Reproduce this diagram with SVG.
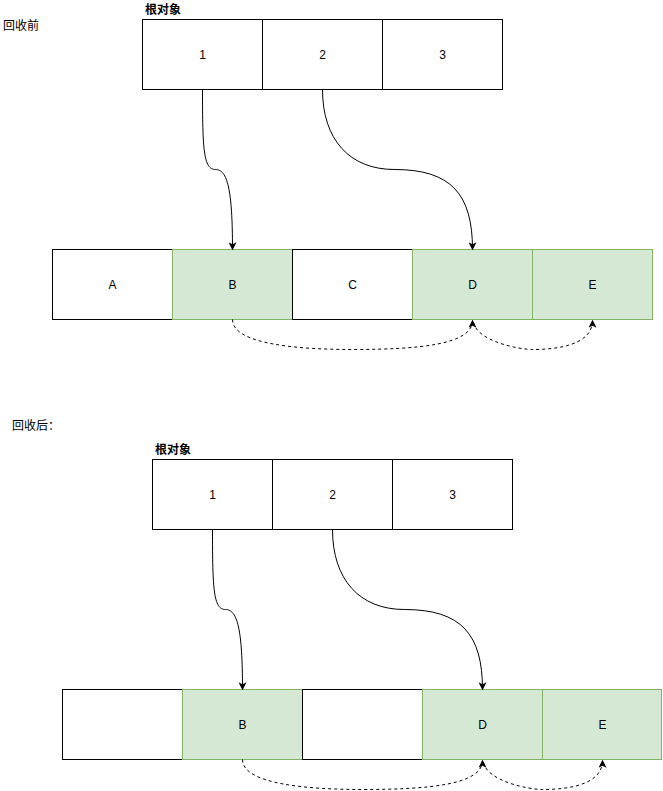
<svg xmlns="http://www.w3.org/2000/svg" width="663" height="791" viewBox="0 0 663 791">
  <style>
    .box { fill: #ffffff; stroke: #000000; stroke-width: 1; }
    .live { fill: #d5e8d4; stroke: #82b366; stroke-width: 1; }
    .lbl { font-family: "Liberation Sans", "Noto Sans CJK SC", sans-serif; font-size: 12px; fill: #000000; text-anchor: middle; dominant-baseline: central; }
    .title { font-family: "Liberation Sans", "Noto Sans CJK SC", sans-serif; font-size: 12px; fill: #000000; }
    .bold { font-weight: bold; }
    .ref { fill: none; stroke: #000000; stroke-width: 1; marker-end: url(#arrow); }
    .dash { fill: none; stroke: #000000; stroke-width: 1; stroke-dasharray: 3 3; marker-end: url(#arrow); }
  </style>
  <defs>
    <marker id="arrow" viewBox="0 0 10 10" refX="9" refY="5" markerWidth="8" markerHeight="8" markerUnits="userSpaceOnUse" orient="auto">
      <path d="M0,0 L10,5 L0,10 L2.5,5 Z" fill="#000000"/>
    </marker>
  </defs>
  <rect width="663" height="791" fill="#ffffff"/>

  <!-- shifted half a pixel so 1px strokes land on pixel rows -->
  <g transform="translate(-0.5,-0.5)">
  <!-- before collection -->
  <text class="title" x="3.5" y="30">回收前</text>
  <text class="title bold" x="145.5" y="14">根对象</text>

  <g id="root1-1"><rect class="box" x="143" y="20" width="120" height="70"/><text class="lbl" x="203" y="55">1</text></g>
  <g id="root1-2"><rect class="box" x="263" y="20" width="120" height="70"/><text class="lbl" x="323" y="55">2</text></g>
  <g id="root1-3"><rect class="box" x="383" y="20" width="120" height="70"/><text class="lbl" x="443" y="55">3</text></g>

  <g id="heap1-A"><rect class="box" x="53" y="250" width="120" height="70"/><text class="lbl" x="113" y="285">A</text></g>
  <g id="heap1-B"><rect class="live" x="173" y="250" width="120" height="70"/><text class="lbl" x="233" y="285">B</text></g>
  <g id="heap1-C"><rect class="box" x="293" y="250" width="120" height="70"/><text class="lbl" x="353" y="285">C</text></g>
  <g id="heap1-D"><rect class="live" x="413" y="250" width="120" height="70"/><text class="lbl" x="473" y="285">D</text></g>
  <g id="heap1-E"><rect class="live" x="533" y="250" width="120" height="70"/><text class="lbl" x="593" y="285">E</text></g>

  <!-- after collection -->
  <text class="title" x="12.5" y="430">回收后：</text>
  <text class="title bold" x="155.5" y="454">根对象</text>

  <g id="root2-1"><rect class="box" x="153" y="460" width="120" height="70"/><text class="lbl" x="213" y="495">1</text></g>
  <g id="root2-2"><rect class="box" x="273" y="460" width="120" height="70"/><text class="lbl" x="333" y="495">2</text></g>
  <g id="root2-3"><rect class="box" x="393" y="460" width="120" height="70"/><text class="lbl" x="453" y="495">3</text></g>

  <g id="heap2-1"><rect class="box" x="63" y="690" width="120" height="70"/></g>
  <g id="heap2-B"><rect class="live" x="183" y="690" width="120" height="70"/><text class="lbl" x="243" y="725">B</text></g>
  <g id="heap2-3"><rect class="box" x="303" y="690" width="120" height="70"/></g>
  <g id="heap2-D"><rect class="live" x="423" y="690" width="120" height="70"/><text class="lbl" x="483" y="725">D</text></g>
  <g id="heap2-E"><rect class="live" x="543" y="690" width="119" height="70"/><text class="lbl" x="603" y="725">E</text></g>

  <g id="connectors">
    <!-- before -->
    <path class="ref" d="M203,90 C203,150 204,170 216,170 C228,170 233,190 233,250"/>
    <path class="ref" d="M323,90 C323,140 350,170 395,170 C452,170 473,195 473,250"/>
    <path class="dash" d="M233,320 C233,345 300,350 353,350 C420,350 473,345 473,321"/>
    <path class="dash" d="M474,323 C478,342 520,350 533,350 C550,350 593,348 593,321"/>
    <!-- after -->
    <path class="ref" d="M213,530 C213,590 214,610 226,610 C238,610 243,630 243,690"/>
    <path class="ref" d="M333,530 C333,580 360,610 405,610 C462,610 483,635 483,690"/>
    <path class="dash" d="M243,760 C243,785 310,790 363,790 C430,790 483,785 483,761"/>
    <path class="dash" d="M484,763 C488,782 530,790 543,790 C560,790 603,788 603,761"/>
  </g>
  </g>
</svg>
